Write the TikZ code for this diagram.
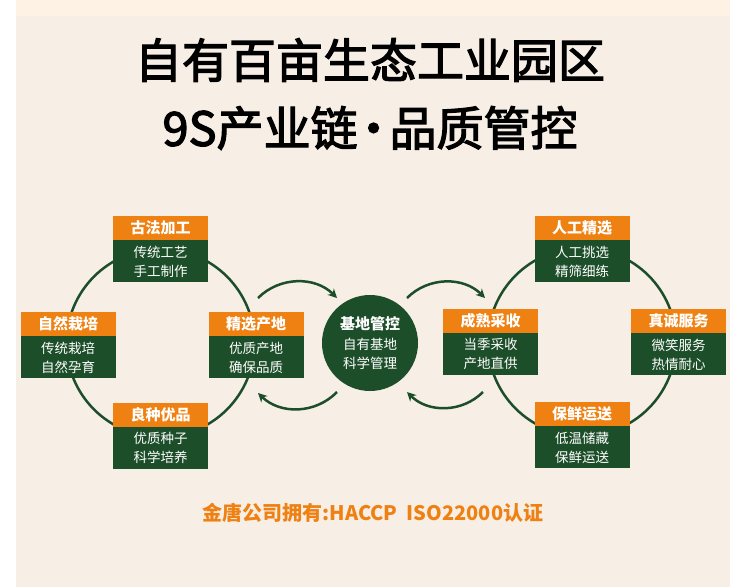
\documentclass[tikz,border=0pt]{standalone}
\usepackage{fontspec}
\setmainfont{Noto Sans CJK SC}
\newfontfamily\titlefont[FakeBold=2.6]{Noto Sans CJK SC}
\usetikzlibrary{arrows.meta}
\definecolor{og}{HTML}{EE8112}
\definecolor{dg}{HTML}{1D4E2A}
\definecolor{bgc}{HTML}{F7EEE6}
\definecolor{topb}{HTML}{FDF2E4}
\tikzset{
  hdr/.style={fill=og, text=white, minimum width=95pt, minimum height=24pt, inner sep=0pt,
    font=\fontsize{15}{17}\selectfont\bfseries},
  bdy/.style={fill=dg, text=white, minimum width=95pt, minimum height=42pt, inner sep=0pt,
    align=center, anchor=north, font=\fontsize{13.5}{19}\selectfont},
  ring/.style={draw=dg, line width=2.5pt},
  arr/.style={draw=dg, line width=2.5pt, -{Stealth[length=9pt,width=9pt]}},
  title/.style={font=\titlefont\fontsize{47}{52}\selectfont, text=black},
}
\begin{document}
\begin{tikzpicture}[x=1pt,y=-1pt]
\useasboundingbox (0,0) rectangle (750,587);
\fill[white] (0,0) rectangle (750,587);
\fill[bgc] (16,0) rectangle (730,587);
\fill[topb] (16,0) rectangle (730,16);

\node[title] (t1) at (370,60) {自有百亩生态工业园区};
\node[title] (t2) at (370,128) {9S产业链\kern-0.16em·\kern-0.16em品质管控};

% left cycle
\coordinate (lc) at (160.5,343);
\draw[ring] (lc) circle[radius=94pt];
\node[hdr] (h1) at (160.5,228) {古法加工};
\node[bdy] (b1) at (h1.south) {传统工艺\\手工制作};
\node[hdr] (h2) at (68,324) {自然栽培};
\node[bdy] (b2) at (h2.south) {传统栽培\\自然孕育};
\node[hdr] (h3) at (256,324) {精选产地};
\node[bdy] (b3) at (h3.south) {优质产地\\确保品质};
\node[hdr] (h4) at (160.5,415) {良种优品};
\node[bdy] (b4) at (h4.south) {优质种子\\科学培养};

% right cycle
\coordinate (rc) at (582,342);
\draw[ring] (rc) circle[radius=94pt];
\node[hdr] (h5) at (582,228) {人工精选};
\node[bdy] (b5) at (h5.south) {人工挑选\\精筛细练};
\node[hdr] (h6) at (490.5,321) {成熟采收};
\node[bdy] (b6) at (h6.south) {当季采收\\产地直供};
\node[hdr] (h7) at (678.5,321) {真诚服务};
\node[bdy] (b7) at (h7.south) {微笑服务\\热情耐心};
\node[hdr] (h8) at (582,414) {保鲜运送};
\node[bdy] (b8) at (h8.south) {低温储藏\\保鲜运送};

% center
\node[circle, fill=dg, minimum size=96pt, inner sep=0pt, text=white, align=center,
  font=\fontsize{13.5}{19}\selectfont] (cc) at (370,343)
  {{\fontsize{15}{17}\selectfont\bfseries 基地管控}\\[1pt]自有基地\\科学管理};

% arrows
\coordinate (a1s) at (258,298);
\coordinate (a1e) at (337,298);
\coordinate (a2s) at (337,392);
\coordinate (a2e) at (258,393);
\coordinate (a3s) at (407,298);
\coordinate (a3e) at (485,298);
\coordinate (a4s) at (483,392);
\coordinate (a4e) at (407,392);
\draw[arr] (a1s) to[bend left=45] (a1e);
\draw[arr] (a2s) to[bend left=45] (a2e);
\draw[arr] (a3s) to[bend left=45] (a3e);
\draw[arr] (a4s) to[bend left=45] (a4e);

\node[text=og, font=\fontsize{20}{24}\selectfont\bfseries] (cert) at (373,513)
  {金唐公司拥有:HACCP\ \ ISO22000认证};
\end{tikzpicture}
\end{document}
